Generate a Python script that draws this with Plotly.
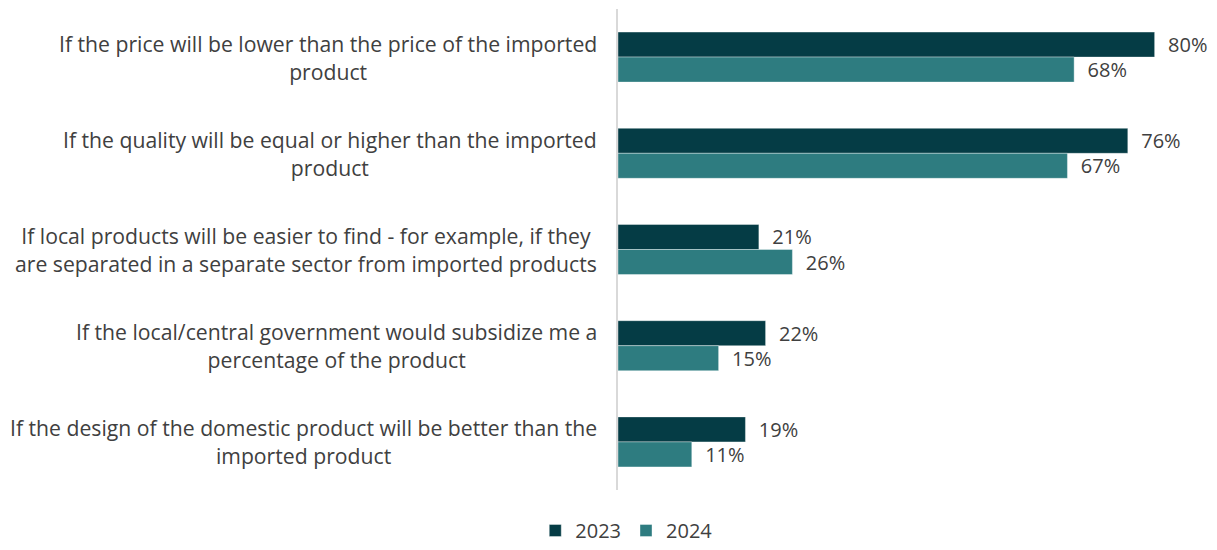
import plotly.graph_objects as go

categories = [
    "If the price will be lower than the price of the imported<br>product",
    "If the quality will be equal or higher than the imported<br>product",
    "If local products will be easier to find - for example, if they<br>are separated in a separate sector from imported products",
    "If the local/central government would subsidize me a<br>percentage of the product",
    "If the design of the domestic product will be better than the<br>imported product",
]
values_2023 = [80, 76, 21, 22, 19]
values_2024 = [68, 67, 26, 15, 11]
series_names = ["2023", "2024"]

COLOR_2023 = "#053c45"
COLOR_2024 = "#2e7c80"
TEXT_COLOR = "#404040"
FONT = "Open Sans"
SIZE = 21.2

fig = go.Figure()
for name, vals, color in [
    (series_names[0], values_2023, COLOR_2023),
    (series_names[1], values_2024, COLOR_2024),
]:
    fig.add_trace(go.Bar(
        y=categories,
        x=vals,
        name=name,
        orientation="h",
        marker=dict(color=color, line=dict(color="rgba(255,255,255,0.5)", width=0.75)),
        text=[f"\u00a0\u00a0{v}%" for v in vals],
        textposition="outside",
        constraintext="none",
        textfont=dict(family=FONT, size=20, color=TEXT_COLOR),
        cliponaxis=False,
    ))

# Category labels, right-aligned against the axis with centred line wrapping
for cat in categories:
    fig.add_annotation(
        x=0, xref="paper", y=cat, yref="y",
        text=cat, showarrow=False,
        xanchor="right", yanchor="middle", align="center",
        xshift=-19,
        font=dict(family=FONT, size=SIZE, color=TEXT_COLOR),
    )

fig.update_layout(
    width=1217, height=550,
    margin=dict(l=618, r=4, t=9, b=60),
    paper_bgcolor="white", plot_bgcolor="white",
    barmode="group",
    bargap=0.48, bargroupgap=0,
    font=dict(family=FONT, size=20, color=TEXT_COLOR),
    showlegend=True,
    legend=dict(
        orientation="h",
        xref="container", yref="container",
        x=0.515, xanchor="center",
        y=0.0, yanchor="bottom",
        font=dict(family=FONT, size=20, color=TEXT_COLOR),
        traceorder="normal",
        itemwidth=30,
    ),
    xaxis=dict(range=[0, 88.7], visible=False),
    yaxis=dict(
        autorange="reversed",
        showticklabels=False,
        showline=True, linecolor="#d9d9d9", linewidth=1.5,
        ticks="", showgrid=False, zeroline=False,
    ),
)

fig.write_html("out.html")
